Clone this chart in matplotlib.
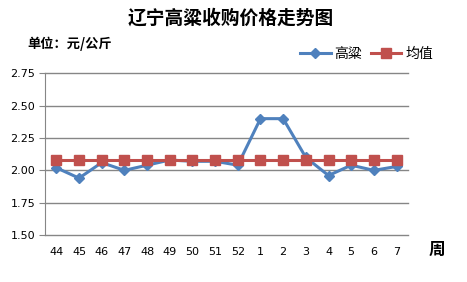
import matplotlib
matplotlib.use("Agg")
import matplotlib.pyplot as plt

plt.rcParams['font.family'] = ['DejaVu Sans', 'Noto Sans CJK SC']

weeks = ['44', '45', '46', '47', '48', '49', '50', '51', '52', '1', '2', '3', '4', '5', '6', '7']
sorghum = [2.02, 1.94, 2.06, 2.00, 2.04, 2.08, 2.07, 2.07, 2.04, 2.40, 2.40, 2.10, 1.96, 2.04, 2.00, 2.03]
average = [2.08] * len(weeks)
yticks = [1.50, 1.75, 2.00, 2.25, 2.50, 2.75]

blue = '#4F81BD'
red = '#C0504D'

fig = plt.figure(figsize=(4.67, 2.82), dpi=100)
ax = fig.add_axes([0.0964, 0.1667, 0.777, 0.573])

x = list(range(len(weeks)))
ax.plot(x, sorghum, color=blue, lw=2.2, marker='D', ms=5.5, label='高粱', zorder=3)
ax.plot(x, average, color=red, lw=2.2, marker='s', ms=6.5, label='均值', zorder=4)

ax.set_xlim(-0.5, len(weeks) - 0.5)
ax.set_ylim(1.5, 2.75)
ax.set_yticks(yticks)
ax.set_yticklabels([f'{v:.2f}' for v in yticks], fontsize=8)
ax.set_xticks(x)
ax.set_xticklabels(weeks, fontsize=8)
ax.tick_params(axis='x', length=0, pad=9)
ax.tick_params(axis='y', length=4, color='#868686', pad=3)
ax.grid(axis='y', color='#868686', lw=1)
for gl in ax.get_ygridlines():
    gl.set_clip_on(False)
for s in ['top', 'right', 'bottom']:
    ax.spines[s].set_visible(False)
ax.spines['left'].set_color('#868686')
ax.set_axisbelow(True)

fig.text(0.493, 0.935, '辽宁高粱收购价格走势图', fontsize=13.5, fontweight='bold',
         ha='center', va='center', family=['Noto Sans CJK SC'])
fig.text(0.058, 0.845, '单位：元/公斤', fontsize=9.5, fontweight='bold',
         ha='left', va='center', family=['Noto Sans CJK SC'])
fig.text(0.935, 0.115, '周', fontsize=12, fontweight='bold',
         ha='center', va='center', family=['Noto Sans CJK SC'])

leg = fig.legend(loc='center', bbox_to_anchor=(0.785, 0.81), ncol=2, frameon=False,
                 handlelength=2.2, columnspacing=0.6, handletextpad=0.3,
                 prop={'family': 'Noto Sans CJK SC', 'size': 10})

fig.savefig('out.png', dpi=100)
